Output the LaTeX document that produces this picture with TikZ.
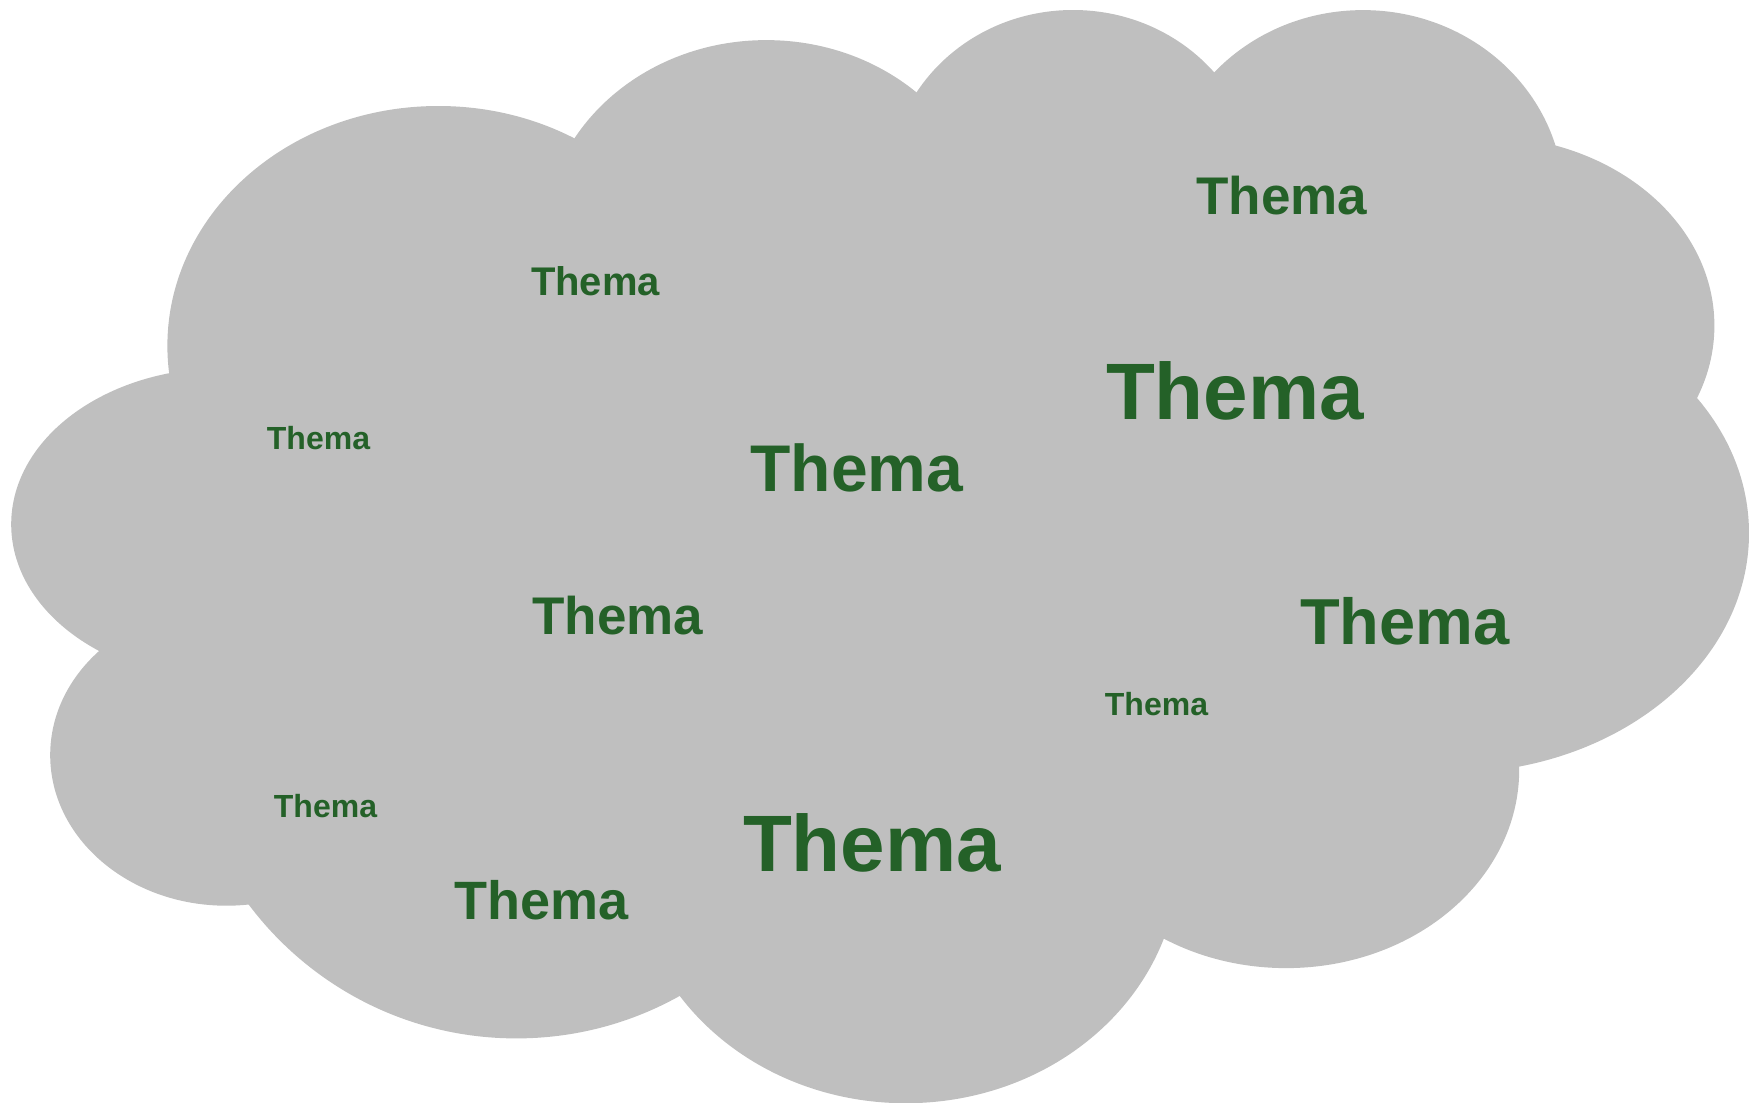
\documentclass[tikz,border=0pt]{standalone}
\usepackage{fontspec}
\setmainfont{Liberation Sans}
\definecolor{cloudgray}{HTML}{BFBFBF}
\definecolor{themagreen}{HTML}{246128}
\begin{document}
\begin{tikzpicture}[x=1pt,y=-1pt,
  lobe/.style={fill=cloudgray,draw=none},
  thema/.style={text=themagreen,inner sep=0pt,anchor=base}]
\useasboundingbox (0,0) rectangle (1749,1103);
% cloud lobes
\fill[lobe] (438.4,345.8) ellipse [x radius=271pt, y radius=239.8pt];
\fill[lobe] (766.3,240.9) ellipse [x radius=223.1pt, y radius=200.8pt];
\fill[lobe] (1073.0,184.0) ellipse [x radius=184pt, y radius=174pt];
\fill[lobe] (1363.0,199.7) ellipse [x radius=200.8pt, y radius=189.6pt];
\fill[lobe] (1483.5,325.7) ellipse [x radius=230.9pt, y radius=189.6pt];
\fill[lobe] (1450.1,533.2) ellipse [x radius=298.9pt, y radius=239.8pt];
\fill[lobe] (1286.1,769.6) ellipse [x radius=233.1pt, y radius=198.5pt];
\fill[lobe] (905.7,857.8) ellipse [x radius=273.3pt, y radius=245.4pt];
\fill[lobe] (516.4,703.8) ellipse [x radius=334.6pt, y radius=334.6pt];
\fill[lobe] (226.4,755.1) ellipse [x radius=176.2pt, y radius=150.6pt];
\fill[lobe] (223.1,524.3) ellipse [x radius=211.9pt, y radius=156.2pt];
% interior
\fill[lobe] (179.3,375.6) -- (582.9,145.1) -- (915.9,101.5) -- (1208.7,74.9)
  -- (1547.2,150.9) -- (1687.8,397.5) -- (1509.9,766.0) -- (1156.6,930.9)
  -- (679.7,992.4) -- (256.1,899.4) -- (108.1,651.9) -- cycle;
% labels
\node[thema,font=\bfseries\fontsize{80}{96}\selectfont] (t1) at (1235,419) {Thema};
\node[thema,font=\bfseries\fontsize{80}{96}\selectfont] (t2) at (872,871) {Thema};
\node[thema,font=\bfseries\fontsize{53}{64}\selectfont] (t3) at (1282,214) {Thema};
\node[thema,font=\bfseries\fontsize{66}{80}\selectfont] (t4) at (857,491) {Thema};
\node[thema,font=\bfseries\fontsize{53}{64}\selectfont] (t5) at (618,634) {Thema};
\node[thema,font=\bfseries\fontsize{65}{78}\selectfont] (t6) at (1405,644) {Thema};
\node[thema,font=\bfseries\fontsize{32}{38}\selectfont] (t7) at (318.5,449) {Thema};
\node[thema,font=\bfseries\fontsize{32}{38}\selectfont] (t8) at (1156.5,715) {Thema};
\node[thema,font=\bfseries\fontsize{32}{38}\selectfont] (t9) at (325.5,817) {Thema};
\node[thema,font=\bfseries\fontsize{54}{65}\selectfont] (t10) at (542,919) {Thema};
\node[thema,font=\bfseries\fontsize{40}{48}\selectfont] (t11) at (595.5,295) {Thema};
\end{tikzpicture}
\end{document}
